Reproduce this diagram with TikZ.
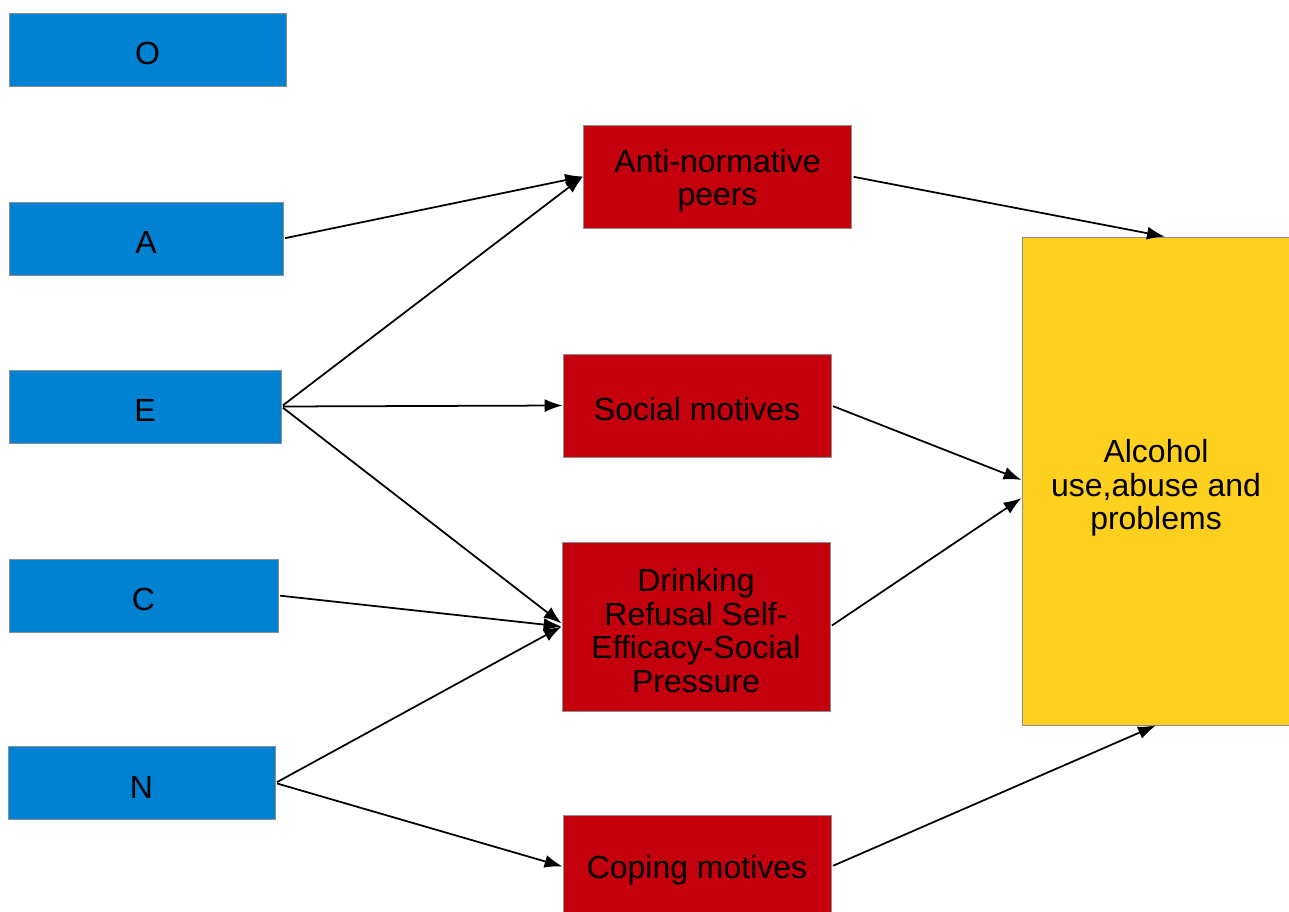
\documentclass[tikz,border=0pt]{standalone}
\usepackage{fontspec}
\setmainfont{Liberation Sans}
\usepackage{tikz}
\usetikzlibrary{calc, positioning, arrows.meta}

\definecolor{traitblue}{HTML}{0081D2}
\definecolor{medred}{HTML}{C3000B}
\definecolor{outyellow}{HTML}{FDD020}
\definecolor{boxgray}{HTML}{8E8E8E}

\begin{document}
\begin{tikzpicture}[x=0.02cm, y=-0.02cm]
    \tikzstyle{boxtext} = [align=center, inner sep=0pt, yshift=-0.08cm, font=\fontsize{18.2}{19}\selectfont]
    \tikzstyle{trait} = [rectangle, draw=boxgray, line width=0.5pt, fill=traitblue, minimum height=1.46cm, inner sep=0pt]
    \tikzstyle{mediator} = [rectangle, draw=boxgray, line width=0.5pt, fill=medred, minimum width=5.36cm, inner sep=0pt]
    \tikzstyle{outcome} = [rectangle, draw=boxgray, line width=0.5pt, fill=outyellow, minimum width=5.36cm, minimum height=9.76cm, inner sep=0pt]
    \tikzstyle{line} = [draw, line width=1pt, shorten <=1pt, -{Latex[length=0.36cm, width=0.26cm]}]

    \useasboundingbox (0,0) rectangle (1289,912);

    % personality traits
    \node [trait, minimum width=5.54cm, label={[boxtext]center:O}] (O) at (147.5,49.5) {};
    \node [trait, minimum width=5.48cm, label={[boxtext]center:A}] (A) at (146,238.5) {};
    \node [trait, minimum width=5.44cm, label={[boxtext]center:E}] (E) at (145,406.5) {};
    \node [trait, minimum width=5.38cm, label={[boxtext]center:C}] (C) at (143.5,595.5) {};
    \node [trait, minimum width=5.34cm, label={[boxtext]center:N}] (N) at (141.5,783) {};

    % mediators
    \node [mediator, minimum height=2.06cm, label={[boxtext]center:Anti-normative\\peers}] (peers) at (717.5,176.5) {};
    \node [mediator, minimum height=2.06cm, label={[boxtext]center:Social motives}] (social) at (697,405.5) {};
    \node [mediator, minimum height=3.38cm, label={[boxtext]center:Drinking\\Refusal Self-\\Efficacy-Social\\Pressure}] (refusal) at (696,626.5) {};
    \node [mediator, minimum height=2.06cm, label={[boxtext]center:Coping motives}] (coping) at (697,866.5) {};

    % outcome
    \node [outcome, label={[boxtext, yshift=-0.06cm]center:Alcohol\\use,abuse and\\problems}] (alcohol) at (1156,481) {};

    \path [line] (A.east) -- (peers.west);
    \path [line] (E.east) -- (peers.west);
    \path [line] (E.east) -- (social.west);
    \path [line] (E.east) -- ([yshift=0.06cm]refusal.west);
    \path [line] (C.east) -- (refusal.west);
    \path [line] (N.east) -- (refusal.west);
    \path [line] (N.east) -- (coping.west);
    \path [line] (peers.east) -- ([xshift=0.18cm]alcohol.north);
    \path [line] (social.east) -- ([yshift=0.02cm]alcohol.west);
    \path [line] (refusal.east) -- ([yshift=-0.34cm]alcohol.west);
    \path [line] (coping.east) -- (alcohol.south);
\end{tikzpicture}
\end{document}
